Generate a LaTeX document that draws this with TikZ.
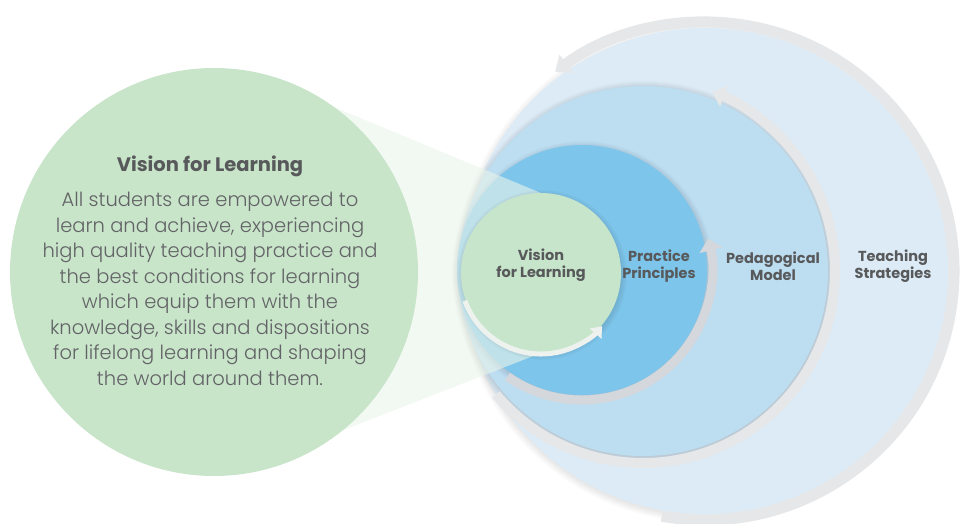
\documentclass[tikz,border=0pt]{standalone}
\usepackage{fontspec}
\setmainfont{Poppins}
\newfontfamily\bodyfont{Poppins}[UprightFont={* Light}]
\usetikzlibrary{arrows.meta}
\definecolor{biggreen}{HTML}{C8E4C9}
\definecolor{visgreen}{HTML}{C7E5CB}
\definecolor{pracblue}{HTML}{7DC5EA}
\definecolor{pedblue}{HTML}{BDDEF1}
\definecolor{teachblue}{HTML}{DCEBF6}
\definecolor{bandgray}{HTML}{E6E7E8}
\definecolor{banddark}{HTML}{D4D7DB}
\definecolor{bandlight}{HTML}{EEF2EE}
\definecolor{beamgreen}{HTML}{EAF4EA}
\definecolor{txtgray}{HTML}{58595B}
\definecolor{bodygray}{HTML}{626366}
\begin{document}
\begin{tikzpicture}[x=1pt,y=-1pt,
  disc/.style={circle,inner sep=0pt,minimum size=#1},
  band/.style={line width=#1,line cap=butt},
  lbl/.style={font=\fontsize{14.5}{17}\selectfont\bfseries,text=txtgray,align=center,inner sep=0pt},
]
\useasboundingbox (0,0) rectangle (964,524);
% teaching strategies
\foreach \k in {0,...,7}{\fill[black,opacity=0.012] (706,273) circle[radius=243+\k];}
\node[disc=486pt,fill=teachblue] (T) at (705,271) {};
\draw[band=11pt,bandgray,-{Triangle[width=22pt,length=14pt]}] (T.center) ++(100:249) arc[start angle=100,end angle=-127,radius=249];
% pedagogical model
\foreach \k in {0,...,7}{\fill[black,opacity=0.014] (644,273) circle[radius=185+\k];}
\node[disc=370pt,fill=pedblue] (M) at (643,271) {};
\draw[band=10pt,bandgray,-{Triangle[width=21pt,length=13pt]}] (M.center) ++(140:192) arc[start angle=140,end angle=-69,radius=192];
% practice principles
\foreach \k in {0,...,6}{\fill[black,opacity=0.016] (583,272) circle[radius=125+\k];}
\node[disc=250pt,fill=pracblue] (P) at (582,270) {};
\draw[band=9pt,banddark,-{Triangle[width=23pt,length=12pt]}] (P.center) ++(125:130) arc[start angle=125,end angle=-14,radius=130];
% beam
\fill[beamgreen,opacity=0.6] (300,93) -- (541,193) -- (541,353) -- (300,447) -- cycle;
% big green circle
\node[disc=408pt,fill=biggreen] (G) at (214,272) {};
% vision circle
\foreach \k in {0,...,5}{\fill[black,opacity=0.016] (542,275) circle[radius=80+\k];}
\node[disc=160pt,fill=visgreen] (V) at (541,273) {};
\draw[band=5pt,bandlight,-{Triangle[width=15pt,length=10pt]}] (V.center) ++(160:81) arc[start angle=160,end angle=41,radius=81];
% texts
\node[font=\fontsize{19.5}{22}\selectfont\bfseries,text=txtgray,inner sep=0pt] (title) at (210,166) {Vision for Learning};
\node[font=\bodyfont\fontsize{19.5}{25.5}\selectfont,text=bodygray,align=center,inner sep=0pt] (body) at (210,289) {All students are empowered to\\learn and achieve, experiencing\\high quality teaching practice and\\the best conditions for learning\\which equip them with the\\knowledge, skills and dispositions\\for lifelong learning and shaping\\the world around them.};
\node[lbl] (lv) at (541,265) {Vision\\for Learning};
\node[lbl] (lp) at (659,266) {Practice\\Principles};
\node[lbl] (lm) at (773,266) {Pedagogical\\Model};
\node[lbl] (lt) at (893,266) {Teaching\\Strategies};
\end{tikzpicture}
\end{document}
